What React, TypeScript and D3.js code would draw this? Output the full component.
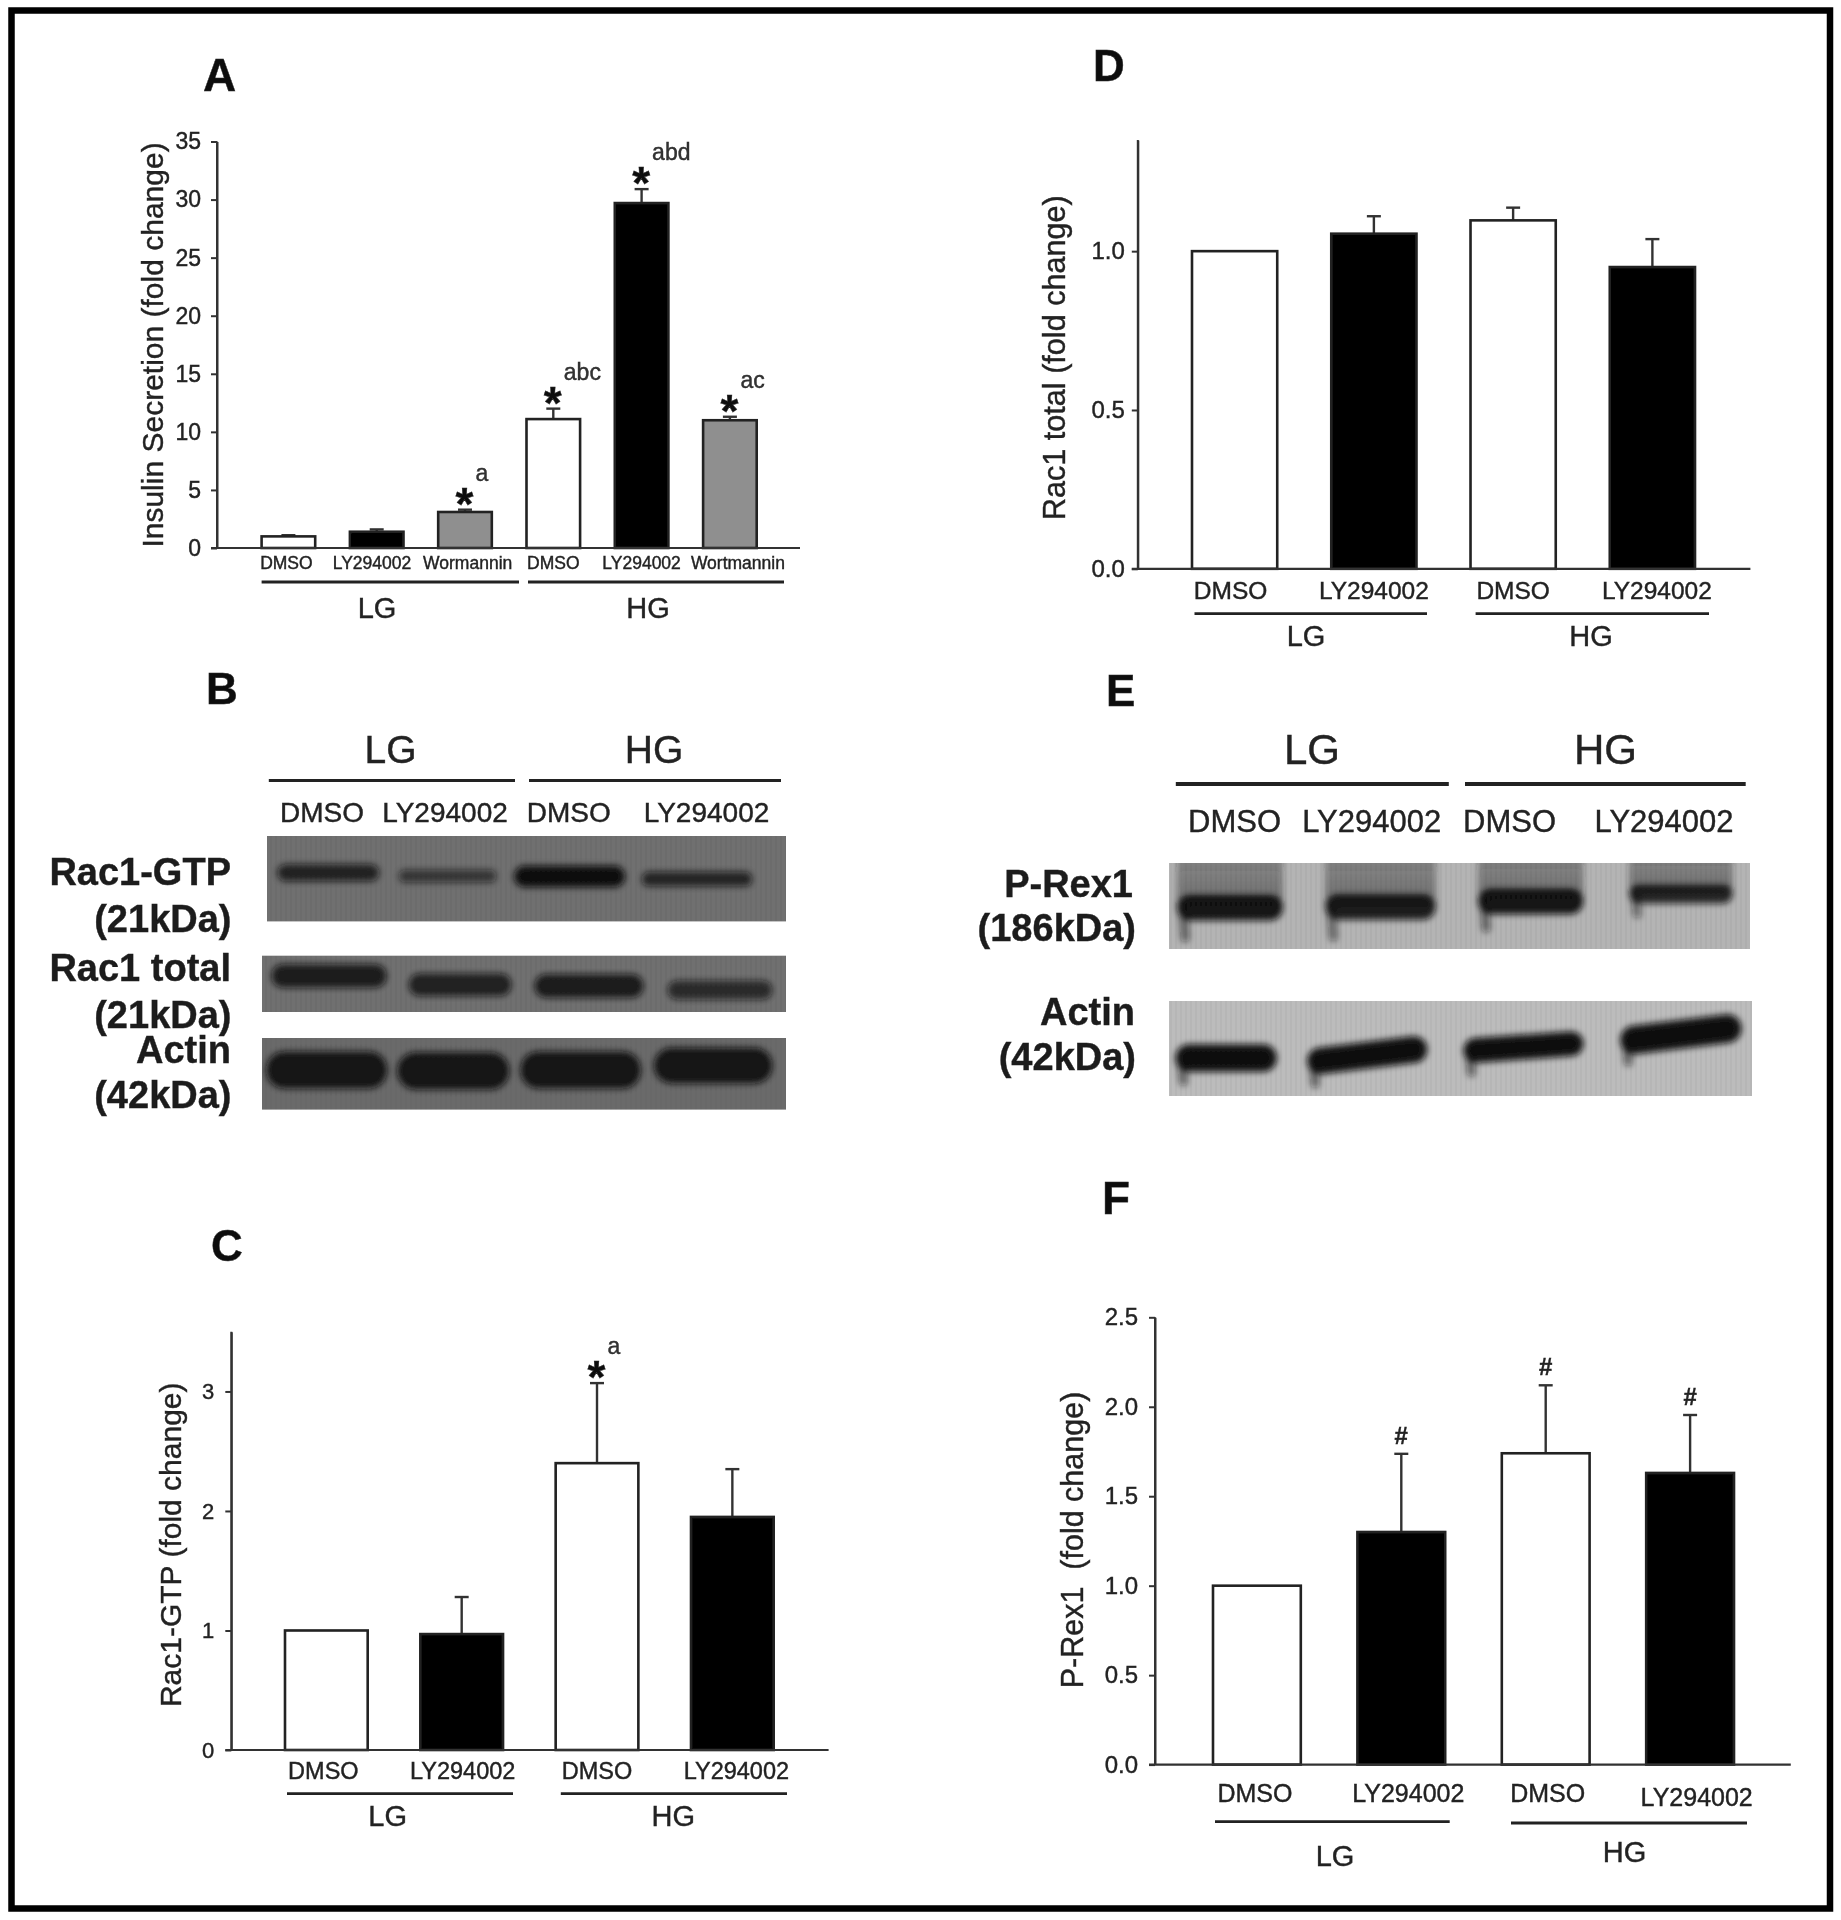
import React, { useEffect, useRef } from 'react';
import * as d3 from 'd3';

// ---- bar data ----
const treatmentsA = ['DMSO', 'LY294002', 'Wormannin', 'DMSO', 'LY294002', 'Wortmannin'];
const treatments = ['DMSO', 'LY294002', 'DMSO', 'LY294002'];
const groupNames = ['LG', 'HG'];

const insulinMean = [1.0, 1.4, 3.1, 11.1, 29.7, 11.0];
const insulinTop = [1.1, 1.6, 3.3, 12.0, 30.9, 11.3];
const insulinStars = [null, null, 'a', 'abc', 'abd', 'ac'];
const insulinTicks = [0, 5, 10, 15, 20, 25, 30, 35];

const rac1GtpMean = [1.0, 0.97, 2.4, 1.95];
const rac1GtpTop = [1.0, 1.28, 3.07, 2.35];
const rac1GtpStars = [null, null, 'a', null];
const rac1GtpTicks = [0, 1, 2, 3];

const rac1TotalMean = [1.0, 1.055, 1.097, 0.95];
const rac1TotalTop = [1.0, 1.11, 1.137, 1.038];
const rac1TotalTicks = [0, 0.5, 1.0];

const pRex1Mean = [1.0, 1.3, 1.74, 1.63];
const pRex1Top = [1.0, 1.737, 2.12, 1.954];
const pRex1Hash = [false, true, true, true];
const pRex1Ticks = [0, 0.5, 1.0, 1.5, 2.0, 2.5];

// ---- blot bands: percent of the blot's width / height, density 0..1 ----
type Band = { from: number; to: number; mid: number; rise?: number; thick: number; density: number; smear?: number; tail?: number };

const rac1GtpBands: Band[] = [
  { from: 2.0, to: 21.6, mid: 43, thick: 20, density: 0.8 },
  { from: 25.4, to: 44.2, mid: 47, thick: 15, density: 0.62 },
  { from: 47.6, to: 69, mid: 47.4, thick: 25, density: 0.98 },
  { from: 72.2, to: 93.5, mid: 50.4, thick: 17, density: 0.78 },
];
const rac1TotalBands: Band[] = [
  { from: 1.8, to: 23.8, mid: 36, thick: 42, density: 0.85 },
  { from: 28, to: 47.6, mid: 51.5, thick: 40, density: 0.82 },
  { from: 52, to: 72.8, mid: 53.8, thick: 42, density: 0.87 },
  { from: 77.4, to: 97.4, mid: 61, thick: 34, density: 0.72 },
];
const actinBands: Band[] = [
  { from: 0.8, to: 23.9, mid: 44.7, thick: 52, density: 0.92 },
  { from: 25.8, to: 47.2, mid: 46, thick: 52, density: 0.92 },
  { from: 49.3, to: 72.3, mid: 44.7, thick: 52, density: 0.92 },
  { from: 74.8, to: 97.4, mid: 38.5, thick: 50, density: 0.92 },
];
const pRex1Bands: Band[] = [
  { from: 1.4, to: 19.6, mid: 52, thick: 30, density: 0.95, smear: 0.5, tail: 20 },
  { from: 26.9, to: 45.9, mid: 51, thick: 30, density: 0.9, smear: 0.5, tail: 20 },
  { from: 53.2, to: 71.3, mid: 44.7, thick: 30, density: 0.95, smear: 0.5, tail: 16 },
  { from: 79.2, to: 97, mid: 36, thick: 22, density: 0.85, smear: 0.5, tail: 12 },
];
const actinEBands: Band[] = [
  { from: 1.1, to: 18.5, mid: 60, thick: 29, density: 0.98, tail: 10 },
  { from: 23.7, to: 44.3, mid: 63, rise: 12, thick: 28, density: 0.98, tail: 10 },
  { from: 50.5, to: 71.1, mid: 52, rise: 7, thick: 26, density: 0.98, tail: 10 },
  { from: 77.4, to: 98.2, mid: 41, rise: 12, thick: 30, density: 0.98, tail: 8 },
];

// ---- look ----
const FONT = '"Liberation Sans", Arial, sans-serif';
const INK = '#222';
const barFill = d3
  .scaleOrdinal<string, string>()
  .domain(['DMSO', 'LY294002', 'Wormannin', 'Wortmannin'])
  .range(['#fff', '#000', '#8f8f8f', '#8f8f8f']);

const YAxis = ({ y, ticks, x, pad, size, fmt }: any) => {
  const ref = useRef<SVGGElement>(null);
  useEffect(() => {
    const g = d3.select(ref.current);
    g.call(d3.axisLeft(y).tickValues(ticks).tickSize(6).tickPadding(pad).tickSizeOuter(0).tickFormat(d3.format(fmt)) as any);
    g.attr('font-family', FONT).attr('font-size', size);
    g.selectAll('path,line').attr('stroke', '#333').attr('stroke-width', 2);
    g.selectAll('text').attr('fill', INK);
  }, []);
  return <g ref={ref} transform={`translate(${x},0)`} />;
};

const BarPanel = ({ p }: any) => {
  const y = d3.scaleLinear().domain([0, p.yMax]).range([p.y0, p.yTop]);
  const x = d3
    .scaleBand<number>()
    .domain(d3.range(p.names.length))
    .range([p.bar0, p.bar1])
    .paddingInner(p.inner)
    .paddingOuter(0);
  const bw = x.bandwidth();

  return (
    <g fontFamily={FONT}>
      <text x={p.letter[0]} y={p.letter[1]} fontSize={p.letterSize ?? 46} fontWeight="bold" fill="#111">{p.name}</text>
      {p.names.map((n: string, i: number) => (
        <g key={i}>
          {p.top[i] > p.mean[i] && (
            <g stroke="#333" strokeWidth={2.4}>
              <line x1={x(i)! + bw / 2} x2={x(i)! + bw / 2} y1={y(p.mean[i])} y2={y(p.top[i])} />
              <line x1={x(i)! + bw / 2 - 7} x2={x(i)! + bw / 2 + 7} y1={y(p.top[i])} y2={y(p.top[i])} />
            </g>
          )}
          <rect
            x={x(i)}
            y={y(p.mean[i])}
            width={bw}
            height={p.y0 - y(p.mean[i])}
            fill={barFill(n)}
            stroke="#222"
            strokeWidth={2.6}
          />
          <text
            x={x(i)! + bw / 2 + p.labelDx[i]}
            y={p.labelY + (p.labelDy ? p.labelDy[i] : 0)}
            fontSize={p.labelSize}
            textAnchor="middle"
            fill={INK}
          >
            {n}
          </text>
          {p.stars && p.stars[i] && (
            <g>
              <text
                x={x(i)! + bw / 2 - 0.5}
                y={y(p.top[i]) + 10}
                fontSize={46}
                fontWeight="bold"
                textAnchor="middle"
                fill="#111"
              >
                *
              </text>
              <text x={x(i)! + bw / 2 + 10.5} y={y(p.top[i]) - 29} fontSize={23} fill="#333">
                {p.stars[i]}
              </text>
            </g>
          )}
          {p.hash && p.hash[i] && (
            <text
              x={x(i)! + bw / 2 + p.hashDx}
              y={y(p.top[i]) - 10}
              fontSize={24}
              fontWeight="bold"
              textAnchor="middle"
              fill="#222"
            >
              #
            </text>
          )}
        </g>
      ))}
      <YAxis y={y} ticks={p.ticks} x={p.axisX} pad={p.tickPad} size={p.tickSize} fmt={p.tickFmt} />
      <line x1={p.axisX} x2={p.axisX} y1={p.y0} y2={p.yTop} stroke="#333" strokeWidth={2} />
      <line x1={p.axisX - 6} x2={p.right} y1={p.y0} y2={p.y0} stroke="#333" strokeWidth={2.2} />
      {groupNames.map((g, i) => (
        <g key={g}>
          <line x1={p.rules[i][0]} x2={p.rules[i][1]} y1={p.ruleY[i]} y2={p.ruleY[i]} stroke="#222" strokeWidth={2.8} />
          <text x={p.groupX[i]} y={p.groupY[i]} fontSize={29} textAnchor="middle" fill={INK}>{g}</text>
        </g>
      ))}
      <text
        transform={`translate(${p.titleX},${p.titleY}) rotate(-90)`}
        fontSize={p.titleSize}
        textAnchor="middle"
        dominantBaseline="central"
        fill={INK}
      >
        {p.title}
      </text>
    </g>
  );
};

const Blot = ({ id, box, bands, bg }: any) => {
  const x = d3.scaleLinear().domain([0, 100]).range([box[0], box[1]]);
  const y = d3.scaleLinear().domain([0, 100]).range([box[2], box[3]]);
  const h = box[3] - box[2];
  const line = d3.line();
  return (
    <g>
      <clipPath id={id}>
        <rect x={box[0]} y={box[2]} width={box[1] - box[0]} height={h} />
      </clipPath>
      <rect x={box[0]} y={box[2]} width={box[1] - box[0]} height={h} fill={bg} />
      <g clipPath={`url(#${id})`}>
        <g filter="url(#bandBlur)">
          {bands.map((b: Band, i: number) => {
            const t = (b.thick / 100) * h;
            const rise = b.rise ?? 0;
            return (
              <g key={i}>
                {b.smear && (
                  <rect
                    x={x(b.from)}
                    y={box[2] - 10}
                    width={x(b.to) - x(b.from)}
                    height={y(b.mid) - box[2] + 10}
                    fill="url(#smearFade)"
                    opacity={b.smear}
                  />
                )}
                <path
                  d={line([[x(b.from) + t / 2, y(b.mid)], [x(b.to) - t / 2, y(b.mid - rise)]])!}
                  stroke="#111"
                  strokeOpacity={b.density}
                  strokeWidth={t}
                  strokeLinecap="round"
                  fill="none"
                />
                {b.tail && (
                  <path
                    d={line([[x(b.from) + 6, y(b.mid)], [x(b.from) + 8, y(b.mid + b.tail + b.thick / 2)]])!}
                    stroke="#111"
                    strokeOpacity={b.density * 0.55}
                    strokeWidth={9}
                    strokeLinecap="round"
                    fill="none"
                  />
                )}
              </g>
            );
          })}
        </g>
        <rect x={box[0]} y={box[2]} width={box[1] - box[0]} height={h} fill="url(#gelStripes)" />
      </g>
    </g>
  );
};

const panels: any[] = [
  {
    name: 'A', letter: [203, 91], names: treatmentsA, mean: insulinMean, top: insulinTop, stars: insulinStars,
    yMax: 35, ticks: insulinTicks, tickFmt: 'd', tickSize: 23, tickPad: 10,
    axisX: 217, y0: 548, yTop: 141.5, right: 800, bar0: 261.6, bar1: 756.7, inner: 0.393,
    labelDx: [-2, -4.7, 2.7, 0, 0, 8], labelY: 568.5, labelSize: 17.5,
    rules: [[261.6, 519], [528, 784]], ruleY: [582, 582], groupX: [377, 648], groupY: [618, 618],
    title: 'Insulin Secretion (fold change)', titleX: 152, titleY: 345, titleSize: 30,
  },
  {
    name: 'C', letter: [211, 1261], letterSize: 44, names: treatments, mean: rac1GtpMean, top: rac1GtpTop, stars: rac1GtpStars,
    yMax: 3.5, ticks: rac1GtpTicks, tickFmt: 'd', tickSize: 22, tickPad: 11,
    axisX: 231.3, y0: 1750, yTop: 1331.7, right: 828.6, bar0: 285, bar1: 773.7, inner: 0.389,
    labelDx: [-3, 1, 0, 4], labelY: 1779.4, labelSize: 23.5,
    rules: [[287, 513], [560.8, 787]], ruleY: [1793.7, 1793.7], groupX: [387.6, 673.3], groupY: [1825.6, 1825.6],
    title: 'Rac1-GTP (fold change)', titleX: 170, titleY: 1544.8, titleSize: 30,
  },
  {
    name: 'D', letter: [1093, 81], letterSize: 44, names: treatments, mean: rac1TotalMean, top: rac1TotalTop,
    yMax: 1.35, ticks: rac1TotalTicks, tickFmt: '.1f', tickSize: 24, tickPad: 7,
    axisX: 1137.8, y0: 568.8, yTop: 140, right: 1750.4, bar0: 1192, bar1: 1695, inner: 0.388,
    labelDx: [-4, 0, 0, 4.5], labelY: 598.6, labelSize: 24.5,
    rules: [[1194.5, 1427], [1475.6, 1709]], ruleY: [613.7, 613.7], groupX: [1306, 1591], groupY: [646.4, 646.4],
    title: 'Rac1 total (fold change)', titleX: 1054, titleY: 357.7, titleSize: 30.6,
  },
  {
    name: 'F', letter: [1102, 1214], names: treatments, mean: pRex1Mean, top: pRex1Top, hash: pRex1Hash, hashDx: 0,
    yMax: 2.5, ticks: pRex1Ticks, tickFmt: '.1f', tickSize: 24, tickPad: 11,
    axisX: 1155, y0: 1764.6, yTop: 1317.3, right: 1790.8, bar0: 1213, bar1: 1734, inner: 0.392,
    labelDx: [-2, 7, 2, 6.6], labelDy: [0, 0, 0, 4], labelY: 1801.7, labelSize: 25,
    rules: [[1215, 1449.7], [1511, 1747]], ruleY: [1821.7, 1823], groupX: [1335, 1624.6], groupY: [1866, 1862],
    title: 'P-Rex1\u00a0\u00a0(fold change)', titleX: 1072, titleY: 1540, titleSize: 30.5,
  },
];

// blot captions: [text, anchor x, baseline y]
const blotB = {
  heads: [['LG', 390.6, 763], ['HG', 654, 763]],
  rules: [[268.8, 515], [529, 781]],
  ruleY: 780.5,
  lanes: [['DMSO', 322], ['LY294002', 445], ['DMSO', 568.7], ['LY294002', 706.5]],
  laneY: 822,
  side: [['Rac1-GTP', 231, 885], ['(21kDa)', 231.5, 932], ['Rac1 total', 231, 981], ['(21kDa)', 231.5, 1028], ['Actin', 231, 1063], ['(42kDa)', 231.5, 1108]],
};
const blotE = {
  heads: [['LG', 1312, 764], ['HG', 1605.4, 764]],
  rules: [[1175.8, 1448.8], [1465, 1745.7]],
  ruleY: 784,
  lanes: [['DMSO', 1234.5], ['LY294002', 1371.7], ['DMSO', 1509.5], ['LY294002', 1664]],
  laneY: 831.5,
  side: [['P-Rex1', 1133, 896.5], ['(186kDa)', 1136, 941], ['Actin', 1135, 1024.6], ['(42kDa)', 1136, 1070]],
};

const BlotCaptions = ({ c, letter, name, headSize, laneSize, ruleW }: any) => (
  <g fontFamily={FONT} fill={INK}>
    <text x={letter[0]} y={letter[1]} fontSize={44} fontWeight="bold" fill="#111">{name}</text>
    {c.heads.map((h: any, i: number) => (
      <g key={i}>
        <text x={h[1]} y={h[2]} fontSize={headSize} textAnchor="middle">{h[0]}</text>
        <line x1={c.rules[i][0]} x2={c.rules[i][1]} y1={c.ruleY} y2={c.ruleY} stroke="#222" strokeWidth={ruleW} />
      </g>
    ))}
    {c.lanes.map((l: any, i: number) => (
      <text key={i} x={l[1]} y={c.laneY} fontSize={laneSize} textAnchor="middle">{l[0]}</text>
    ))}
    {c.side.map((s: any, i: number) => (
      <text key={i} x={s[1]} y={s[2]} fontSize={38} fontWeight="bold" textAnchor="end" fill="#1a1a1a">{s[0]}</text>
    ))}
  </g>
);

export default function App() {
  return (
    <svg width={1841} height={1920} style={{ position: 'absolute', left: 0, top: 0 }} xmlns="http://www.w3.org/2000/svg">
      <style>{'text{stroke:#222;stroke-width:.4px}'}</style>
      <defs>
        <filter id="soft" filterUnits="userSpaceOnUse" x="0" y="0" width="1841" height="1920">
          <feGaussianBlur stdDeviation="0.7" />
        </filter>
        <filter id="bandBlur" filterUnits="userSpaceOnUse" x="0" y="0" width="1841" height="1920">
          <feGaussianBlur stdDeviation="3.4" />
        </filter>
        <pattern id="gelStripes" width="5" height="8" patternUnits="userSpaceOnUse">
          <rect width="2" height="8" fill="#000" opacity="0.03" />
        </pattern>
        <linearGradient id="smearFade" x1="0" y1="0" x2="0" y2="1">
          <stop offset="0" stopColor="#222" stopOpacity="0.62" />
          <stop offset="1" stopColor="#222" stopOpacity="1" />
        </linearGradient>
      </defs>
      <rect width={1841} height={1920} fill="#fff" />
      <g filter="url(#soft)">
        <rect x={11.5} y={10.5} width={1818.5} height={1898} fill="none" stroke="#000" strokeWidth={6.5} />
        {panels.map((p) => <BarPanel key={p.name} p={p} />)}
        <BlotCaptions c={blotB} letter={[206, 704]} name="B" headSize={39} laneSize={28} ruleW={3} />
        <BlotCaptions c={blotE} letter={[1106, 706]} name="E" headSize={42} laneSize={31} ruleW={3.8} />
        <Blot id="b1" box={[267, 786, 836, 921.4]} bands={rac1GtpBands} bg="#6f6f6f" />
        <Blot id="b2" box={[262, 786, 955.7, 1012]} bands={rac1TotalBands} bg="#707070" />
        <Blot id="b3" box={[262, 786, 1038, 1109.6]} bands={actinBands} bg="#6a6a6a" />
        <Blot id="e1" box={[1169, 1750, 863, 949]} bands={pRex1Bands} bg="#b4b4b4" />
        <Blot id="e2" box={[1169, 1752, 1001, 1096]} bands={actinEBands} bg="#bcbcbc" />
      </g>
    </svg>
  );
}
